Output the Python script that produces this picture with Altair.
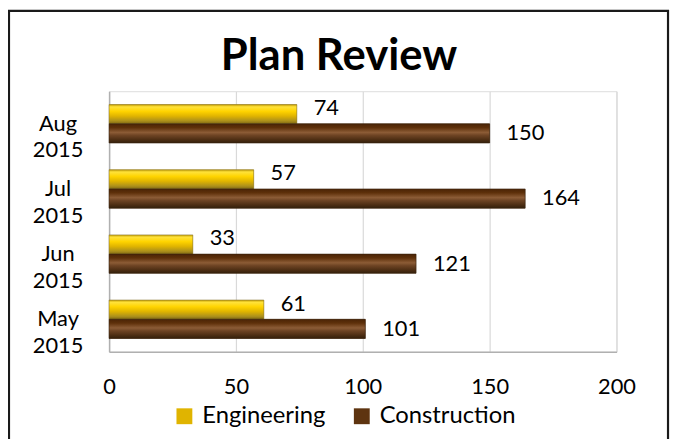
import altair as alt
import pandas as pd

months = ["May 2015", "Jun 2015", "Jul 2015", "Aug 2015"]
engineering = [61, 33, 57, 74]
construction = [101, 121, 164, 150]
series = ["Engineering", "Construction"]
month_order = ["Aug 2015", "Jul 2015", "Jun 2015", "May 2015"]
x_ticks = [0, 50, 100, 150, 200]

rows = []
for m, e, c in zip(months, engineering, construction):
    rows.append({"month": m, "series": "Engineering", "value": e})
    rows.append({"month": m, "series": "Construction", "value": c})
df = pd.DataFrame(rows)

FONT = "Lato"

y_enc = alt.Y("month:N", sort=month_order, title=None,
              scale=alt.Scale(paddingInner=0.41, paddingOuter=0.205),
              axis=alt.Axis(labelExpr="split(datum.label, ' ')", labelAlign="center",
                            labelBaseline="middle", labelPadding=52, ticks=False,
                            labelLineHeight=27, labelFontSize=22, labelFont=FONT,
                            labelColor="#000000", domainColor="#B0B0B0", domainWidth=1.5,
                            grid=False))
yoff_enc = alt.YOffset("series:N", sort=series,
                       scale=alt.Scale(paddingInner=0, paddingOuter=0))
x_enc = alt.X("value:Q", title=None,
              scale=alt.Scale(domain=[0, 200], nice=False),
              axis=alt.Axis(values=x_ticks, ticks=False, labelPadding=25,
                            labelFlush=False,
                            labelFontSize=22, labelFont=FONT, labelColor="#000000",
                            domainColor="#B0B0B0", domainWidth=1.5,
                            grid=True, gridColor="#D9D9D9", gridWidth=1.2))

base = alt.Chart(df).encode(x=x_enc, y=y_enc, yOffset=yoff_enc)

bars = base.mark_bar().encode(
    color=alt.Color("series:N", sort=series,
                    scale=alt.Scale(domain=series, range=["#E0B400", "#5E3410"]),
                    legend=alt.Legend(title=None, orient="none", direction="horizontal",
                                      legendX=64, legendY=316, symbolType="square",
                                      symbolSize=256, symbolStrokeWidth=0,
                                      labelFontSize=24, labelFont=FONT,
                                      labelColor="#000000", labelOffset=6,
                                      columnPadding=24, symbolOpacity=1))
)

gold = alt.Gradient(gradient="linear", x1=0, y1=0, x2=0, y2=1, stops=[
    alt.GradientStop(offset=0, color="#C29C00"),
    alt.GradientStop(offset=0.12, color="#FFE23A"),
    alt.GradientStop(offset=0.35, color="#FFD400"),
    alt.GradientStop(offset=0.6, color="#E0B400"),
    alt.GradientStop(offset=0.85, color="#AC901C"),
    alt.GradientStop(offset=1, color="#806810"),
])
brown = alt.Gradient(gradient="linear", x1=0, y1=0, x2=0, y2=1, stops=[
    alt.GradientStop(offset=0, color="#4A2406"),
    alt.GradientStop(offset=0.2, color="#5E300A"),
    alt.GradientStop(offset=0.45, color="#8C5C36"),
    alt.GradientStop(offset=0.6, color="#6E4424"),
    alt.GradientStop(offset=0.85, color="#4A2C12"),
    alt.GradientStop(offset=1, color="#33200C"),
])

eng_bars = base.transform_filter(alt.datum.series == "Engineering").mark_bar(
    fill=gold, stroke="#8A7A3A", strokeWidth=0.6)
con_bars = base.transform_filter(alt.datum.series == "Construction").mark_bar(
    fill=brown, stroke="#3A2410", strokeWidth=0.6)

eng_text = base.transform_filter(alt.datum.series == "Engineering").mark_text(
    align="left", baseline="middle", dx=17, dy=-6, fontSize=22, font=FONT,
    color="#000000").encode(text="value:Q")
con_text = base.transform_filter(alt.datum.series == "Construction").mark_text(
    align="left", baseline="middle", dx=17, dy=0, fontSize=22, font=FONT,
    color="#000000").encode(text="value:Q")

border = alt.Chart(alt.Data(values=[{}])).mark_rect(
    fill="transparent", stroke="#1A1A1A", strokeWidth=2.2).encode(
    x=alt.value(-101), x2=alt.value(564), y=alt.value(-81), y2=alt.value(380))

chart = alt.layer(bars, eng_bars, con_bars, eng_text, con_text, border).properties(
    width=512, height=263,
    title=alt.TitleParams("Plan Review", fontSize=44, font=FONT, fontWeight="bold",
                          color="#000000", anchor="middle", dx=-24, offset=-70),
    autosize=alt.AutoSizeParams(type="none"),
    padding={"left": 102, "top": 82, "right": 54, "bottom": 86},
).configure_view(stroke=None).configure(background="white")

chart.save("out.html", embed_options={"renderer": "svg", "actions": False})
